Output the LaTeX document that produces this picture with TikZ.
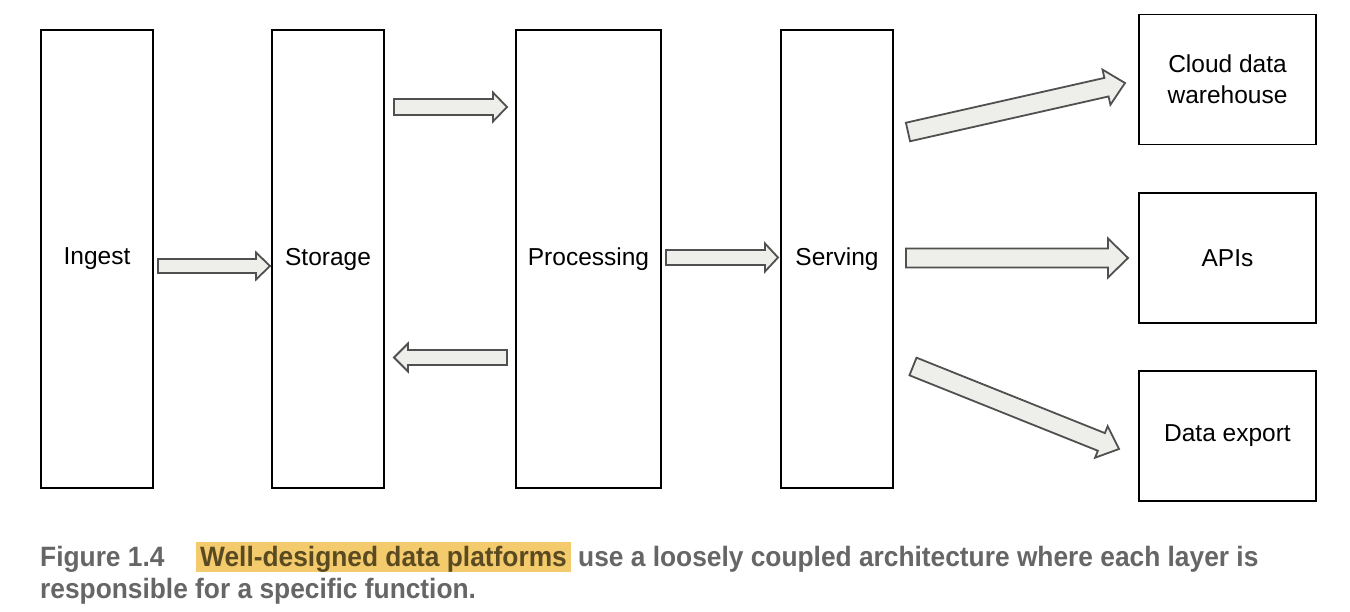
\documentclass[tikz,border=0pt]{standalone}
\usepackage{fontspec}
\setmainfont{Liberation Sans}
\newfontfamily\capfont[FakeStretch=0.94]{Liberation Sans}
\usetikzlibrary{calc}
\definecolor{arrfill}{HTML}{EEEEEA}
\definecolor{arrline}{HTML}{505050}
\definecolor{captxt}{HTML}{666666}
\definecolor{hlfill}{HTML}{F3CB6C}
\definecolor{hltxt}{HTML}{5A4A22}
% tail, tip, half shaft, half head, head length
\newcommand\blockarrow[5]{%
  \coordinate (ba-h) at ($(#2)!#5!(#1)$);
  \draw[barrow] ($(#1)!#3!90:(#2)$) -- ($(ba-h)!#3!90:(#2)$) -- ($(ba-h)!#4!90:(#2)$) -- (#2)
     -- ($(ba-h)!#4!-90:(#2)$) -- ($(ba-h)!#3!-90:(#2)$) -- ($(#1)!#3!-90:(#2)$) -- cycle;}
\begin{document}
\begin{tikzpicture}[x=1pt,y=-1pt,
  box/.style={draw=black, line width=1.4pt, fill=white, inner sep=0pt, outer sep=0pt,
    font=\fontsize{24.5}{31}\selectfont, align=center},
  barrow/.style={draw=arrline, fill=arrfill, line width=1.8pt, line join=miter},
  captext/.style={anchor=base west, inner sep=0pt, text=captxt,
    font=\capfont\bfseries\fontsize{28}{30}\selectfont}]
\useasboundingbox (0,0) rectangle (1350,612);
\fill[white] (0,0) rectangle (1350,612);
% layers
\node[box, minimum width=112pt, minimum height=458pt] (ingest) at (97,259) {Ingest};
\node[box, minimum width=112pt, minimum height=458pt] (storage) at (328,259) {Storage};
\node[box, minimum width=145pt, minimum height=458pt] (processing) at (588.5,259) {Processing};
\node[box, minimum width=112pt, minimum height=458pt] (serving) at (837,259) {Serving};
\node[box, minimum width=177pt, minimum height=130pt] (cloud) at (1227.5,79.5) {Cloud data\\warehouse};
\node[box, minimum width=177pt, minimum height=130pt] (apis) at (1227.5,258) {APIs};
\node[box, minimum width=177pt, minimum height=130pt] (export) at (1227.5,436) {Data export};
% arrow ends
\coordinate (a1s) at (158,266);   \coordinate (a1e) at (270,266);
\coordinate (a2s) at (394,107);   \coordinate (a2e) at (507,107);
\coordinate (a3s) at (507,357.5); \coordinate (a3e) at (394,357.5);
\coordinate (a4s) at (666,257.5); \coordinate (a4e) at (778,257.5);
\coordinate (a5s) at (906,258);   \coordinate (a5e) at (1128,258);
\coordinate (a6s) at (908,132);   \coordinate (a6e) at (1125,83);
\coordinate (a7s) at (913,366.5); \coordinate (a7e) at (1119,449);
\blockarrow{a1s}{a1e}{7pt}{13.5pt}{14pt}
\blockarrow{a2s}{a2e}{8pt}{14.5pt}{14pt}
\blockarrow{a3s}{a3e}{7.5pt}{14pt}{14pt}
\blockarrow{a4s}{a4e}{7.5pt}{14pt}{13pt}
\blockarrow{a5s}{a5e}{9.5pt}{19.5pt}{20pt}
\blockarrow{a6s}{a6e}{9.5pt}{18pt}{19pt}
\blockarrow{a7s}{a7e}{9.5pt}{17pt}{19pt}
% caption
\node[captext] (fig) at (40,566) {Figure 1.4};
\node[captext, fill=hlfill, text=hltxt, inner xsep=4pt, inner ysep=3pt, text height=21pt, text depth=3pt]
  (hl) at (196,566) {Well-designed data platforms};
\node[captext] (cap1) at (578,566) {use a loosely coupled architecture where each layer is};
\node[captext] (cap2) at (40,598) {responsible for a specific function.};
\end{tikzpicture}
\end{document}
